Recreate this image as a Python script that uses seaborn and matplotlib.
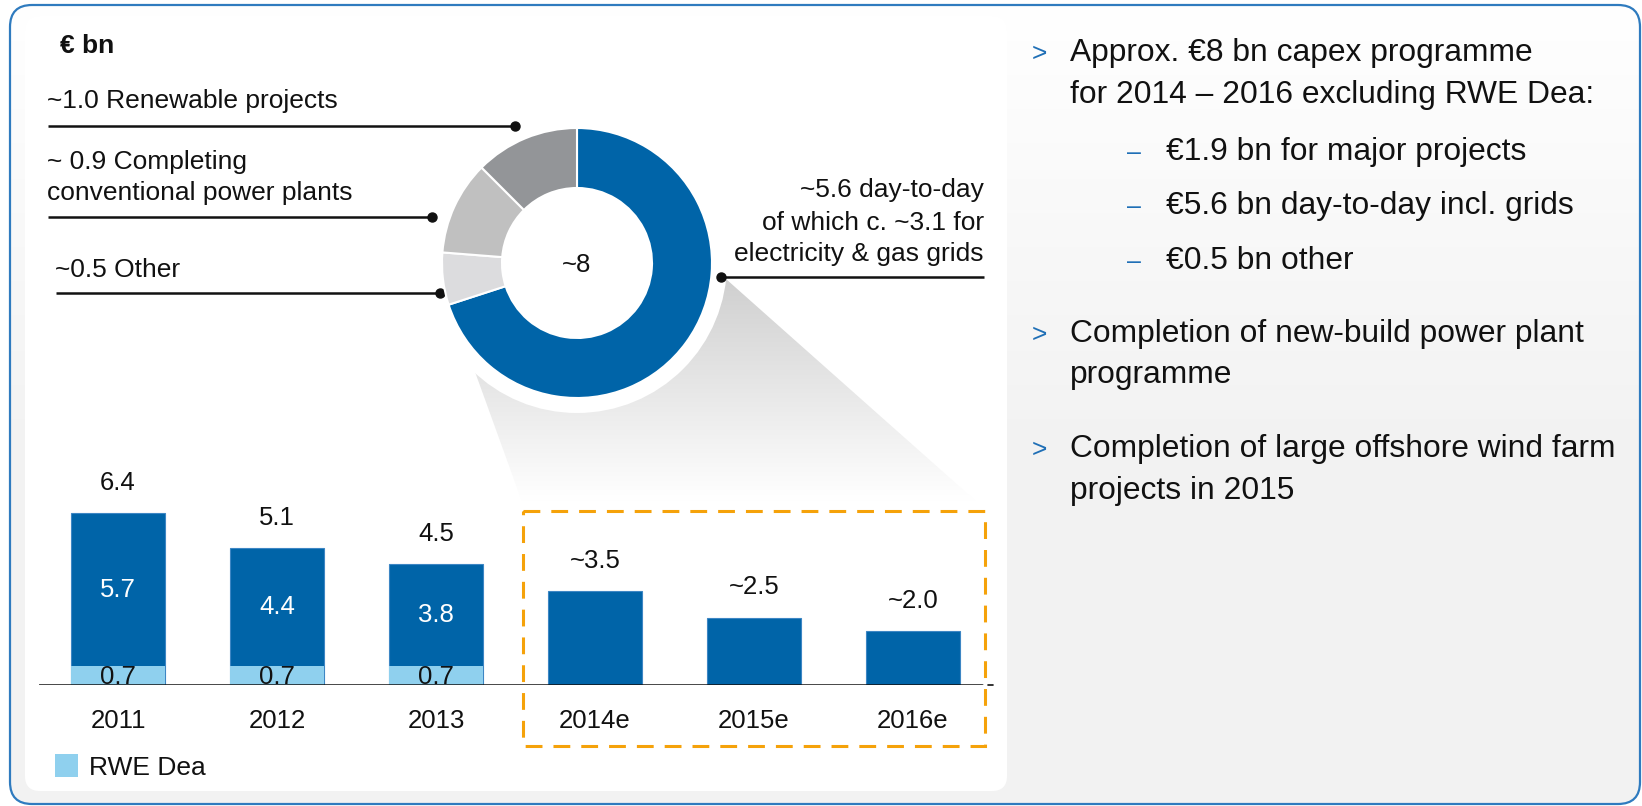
import numpy as np
import matplotlib
matplotlib.use("Agg")
import matplotlib.pyplot as plt
from matplotlib.patches import FancyBboxPatch, Polygon, Circle, Rectangle
import seaborn as sns

# data
years = ["2011", "2012", "2013", "2014e", "2015e", "2016e"]
totals = [6.4, 5.1, 4.5, 3.5, 2.5, 2.0]
dea = [0.7, 0.7, 0.7, 0.0, 0.0, 0.0]
total_labels = ["6.4", "5.1", "4.5", "~3.5", "~2.5", "~2.0"]
core_labels = ["5.7", "4.4", "3.8", "", "", ""]
dea_labels = ["0.7", "0.7", "0.7", "", "", ""]

donut_vals = [5.6, 0.5, 0.9, 1.0]
donut_cols = ["#0064a8", "#dcdcde", "#c0c0c0", "#939598"]

bullets = ["Approx. \u20ac8 bn capex programme|for 2014 \u2013 2016 excluding RWE Dea:",
           "Completion of new-build power plant|programme",
           "Completion of large offshore wind farm|projects in 2015"]
subbullets = ["\u20ac1.9 bn for major projects",
              "\u20ac5.6 bn day-to-day incl. grids",
              "\u20ac0.5 bn other"]

BLUE = "#0064a8"
LIGHT = "#8fd0ee"
W, H = 1642, 806


def vgrad(levels):
    rgb = np.stack([levels, levels, levels], axis=-1)
    return np.repeat(rgb[:, None, :], 2, axis=1)


sns.set_style("white")
plt.rcParams["font.family"] = ["Liberation Sans", "DejaVu Sans"]

fig = plt.figure(figsize=(W / 100, H / 100), dpi=100)

# background layer in pixel coordinates
bg = fig.add_axes([0, 0, 1, 1])
bg.axis("off")

frame = FancyBboxPatch((10, 5), 1630, 799, boxstyle="round,pad=0,rounding_size=22",
                       facecolor="none", edgecolor="#2f7bbf", lw=1.6, zorder=6)
bg.add_patch(frame)
clipframe = FancyBboxPatch((10, 5), 1630, 799, boxstyle="round,pad=0,rounding_size=22",
                           facecolor="none", edgecolor="none")
bg.add_patch(clipframe)
g = np.clip(np.linspace(0, 1, 400) / 0.55, 0, 1)
im = bg.imshow(vgrad(1 - 0.05 * g), extent=(10, 1640, 805, 5), origin="upper",
               aspect="auto", zorder=0)
im.set_clip_path(clipframe)

panel = FancyBboxPatch((25, 16), 982, 775, boxstyle="round,pad=0,rounding_size=15",
                       facecolor="white", edgecolor="none", zorder=1)
bg.add_patch(panel)

# funnel shadow from donut to forecast box
funnel = Polygon([(449, 300), (708, 263), (986, 510), (525, 510)], closed=True,
                 facecolor="none", edgecolor="none")
bg.add_patch(funnel)
yy = np.linspace(255, 512, 300)
lv = np.clip(0.81 + 0.19 * (yy - 275) / (500 - 275), 0.81, 1.0)
fim = bg.imshow(vgrad(lv), extent=(440, 1000, 512, 255), origin="upper", aspect="auto", zorder=2)
fim.set_clip_path(funnel)
bg.add_patch(Circle((577, 263), 150, facecolor="white", edgecolor="none", zorder=3))

# orange dashed box
bg.add_patch(Rectangle((523, 511), 462, 235, facecolor="none", edgecolor="#f5a20a",
                       lw=2.2, linestyle=(0, (5.5, 3.6)), zorder=4))

# donut labels with leader lines
TXT = dict(fontsize=19, color="#111111", zorder=6)
bg.text(60, 52.7, "\u20ac bn", fontsize=19, fontweight="bold", color="#111111", zorder=6)
bg.text(47, 108, "~1.0 Renewable projects", va="baseline", **TXT)
bg.text(47, 169, "~ 0.9 Completing", va="baseline", **TXT)
bg.text(47, 200, "conventional power plants", va="baseline", **TXT)
bg.text(55, 277, "~0.5 Other", va="baseline", **TXT)
bg.text(984, 197, "~5.6 day-to-day", va="baseline", ha="right", **TXT)
bg.text(984, 230, "of which c. ~3.1 for", va="baseline", ha="right", **TXT)
bg.text(984, 261, "electricity & gas grids", va="baseline", ha="right", **TXT)
for x0, x1, y, xd in [(48, 515, 126, 515), (48, 432, 217, 432), (56, 440, 293, 440), (721, 984, 277, 721)]:
    bg.plot([x0, x1], [y, y], color="#111111", lw=1.8, zorder=6, solid_capstyle="butt")
    bg.plot([xd], [y], "o", color="#111111", ms=6.5, zorder=7)

# right side bullet text
RT = dict(fontsize=22.9, color="#111111", va="baseline", zorder=6)
ys = [(61, 102.5), (342, 383), (457, 499)]
for text, (y1, y2) in zip(bullets, ys):
    l1, l2 = text.split("|")
    bg.text(1032, y1, ">", color="#1f6fb6", fontsize=19, va="baseline", zorder=6)
    bg.text(1070, y1, l1, **RT)
    bg.text(1070, y2, l2, **RT)
for text, y in zip(subbullets, [160, 214, 269]):
    bg.text(1127, y, "\u2013", color="#1f6fb6", fontsize=18, va="baseline", zorder=6)
    bg.text(1166, y, text, **RT)

# legend
bg.add_patch(Rectangle((55, 754), 23, 23, facecolor=LIGHT, edgecolor="none", zorder=6))
bg.text(89, 775, "RWE Dea", va="baseline", **TXT)
bg.plot([988, 993], [685, 685], color="#111111", lw=1.2, zorder=6)
bg.set_xlim(0, W)
bg.set_ylim(H, 0)

# donut
R = 160
ax_d = fig.add_axes([(577 - R) / W, (H - 263 - R) / H, 2 * R / W, 2 * R / H])
ax_d.pie(donut_vals, colors=donut_cols, radius=135, startangle=90, counterclock=False,
         wedgeprops=dict(width=60, edgecolor="white", linewidth=1.5))
ax_d.set_xlim(-R, R)
ax_d.set_ylim(-R, R)
ax_d.patch.set_alpha(0)
ax_d.axis("off")
ax_d.text(0, -8.7, "~8", ha="center", va="baseline", fontsize=18.5, color="#111111")

# bar chart
unit = 26.8
base_y = 685
ax_b = fig.add_axes([38.5 / W, (H - base_y) / H, 954 / W, 8 * unit / H])
ax_b.patch.set_alpha(0)
sns.barplot(x=years, y=totals, color=BLUE, saturation=1, width=0.585, errorbar=None,
            edgecolor="#3d86c4", linewidth=0.8, ax=ax_b)
sns.barplot(x=years, y=dea, color=LIGHT, saturation=1, width=0.585, errorbar=None,
            linewidth=0, ax=ax_b)
ax_b.set_xlim(-0.5, 5.5)
ax_b.set_ylim(0, 8)
ax_b.axhline(0, xmin=0, xmax=(982 - 38.5) / 954, color="#111111", lw=1.8, zorder=5)
for i in range(len(years)):
    ax_b.annotate(total_labels[i], (i, totals[i]), xytext=(0, 17), textcoords="offset points",
                  ha="center", va="baseline", fontsize=18.5, color="#111111", annotation_clip=False)
    if core_labels[i]:
        ax_b.text(i, dea[i] + (totals[i] - dea[i]) / 2, core_labels[i], ha="center", va="center",
                  fontsize=18.5, color="white")
        ax_b.text(i, dea[i] / 2 - 0.04, dea_labels[i], ha="center", va="center",
                  fontsize=18.5, color="#111111", zorder=3)
ax_b.set_yticks([])
ax_b.set_xlabel("")
ax_b.set_ylabel("")
ax_b.tick_params(axis="x", length=0, pad=17.5, labelsize=18.5, labelcolor="#111111")
sns.despine(ax=ax_b, left=True, bottom=True)

fig.savefig("out.png", dpi=100)
